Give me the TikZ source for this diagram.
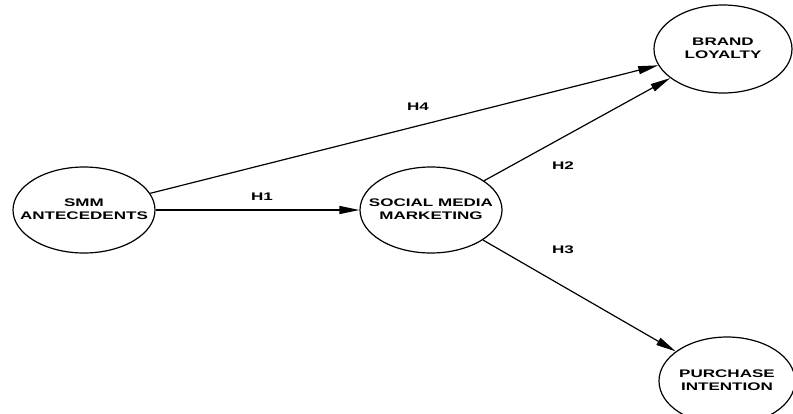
\documentclass[tikz,border=0pt]{standalone}
\usepackage{fontspec}
\setmainfont{Liberation Sans}
\usetikzlibrary{shapes.geometric,arrows.meta}
\newcommand{\wt}[1]{\scalebox{1.55}[1]{#1}}
\newcommand{\twol}[2]{\wt{\begin{tabular}{@{}c@{}}#1\\#2\end{tabular}}}
\tikzset{
  var/.style={draw, ellipse, line width=1.2pt, minimum width=142pt, minimum height=86pt, inner sep=0pt},
  lab/.style={font=\fontsize{11}{13}\selectfont\bfseries, inner sep=0pt},
  path/.style={line width=1.2pt, -{Triangle[length=20pt,width=8pt]}},
  hlab/.style={font=\fontsize{11}{13}\selectfont\bfseries, inner sep=0pt}
}
\begin{document}
\begin{tikzpicture}[x=1pt,y=-1pt]
\useasboundingbox (0,0) rectangle (793,413);
\node[var, label={[lab]center:\twol{SMM}{ANTECEDENTS}}] (smm) at (84,210) {};
\node[var, label={[lab]center:\twol{SOCIAL MEDIA}{MARKETING}}] (smk) at (431,210) {};
\node[var, minimum width=138pt, minimum height=88pt, label={[lab]center:\twol{BRAND}{LOYALTY}}] (bl) at (723,49) {};
\node[var, minimum width=136pt, minimum height=88pt, label={[lab]center:\twol{PURCHASE}{INTENTION}}] (pi) at (727,381) {};
\draw[path] (smm) -- (bl);
\draw[path] (smm) -- (smk);
\draw[path] (smk) -- (bl);
\draw[path] (smk) -- (pi);
\node[hlab] (h4) at (418,107) {\wt{H4}};
\node[hlab] (h1) at (262,197) {\wt{H1}};
\node[hlab] (h2) at (563,166) {\wt{H2}};
\node[hlab] (h3) at (563,250) {\wt{H3}};
\end{tikzpicture}
\end{document}
